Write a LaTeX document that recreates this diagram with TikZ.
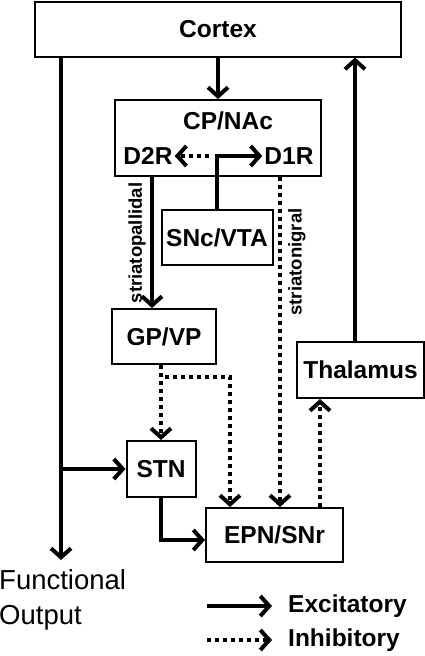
\documentclass[tikz,border=0pt]{standalone}
\usepackage{fontspec}
\setmainfont{Liberation Sans}
\usetikzlibrary{arrows.meta}

\tikzset{
	region/.style={draw, line width=2pt, inner sep=0pt, font=\fontsize{24.5}{29}\selectfont\bfseries},
	rlabel/.style={inner sep=2pt, font=\fontsize{24.5}{29}\selectfont\bfseries},
	path label/.style={inner sep=0pt, rotate=90, font=\fontsize{18.5}{22}\selectfont\bfseries},
	exc/.style={line width=4pt, -{Straight Barb[length=9pt,width=20pt]}},
	inh/.style={exc, dash pattern=on 4pt off 4pt},
}

\begin{document}
\begin{tikzpicture}[x=1pt, y=-1pt]
		\useasboundingbox (0,0) rectangle (425,656);
		
		% regions
		\node[region, minimum width=366pt, minimum height=55pt] (ctx) at (218,29) {Cortex};
		\node[region, minimum width=206pt, minimum height=76pt] (cp) at (218,138) {};
		\node[rlabel] (cptxt) at (228,121) {CP/NAc};
		\node[rlabel] (d2r) at (148,156) {D2R};
		\node[rlabel] (d1r) at (289,156) {D1R};
		\node[region, minimum width=111pt, minimum height=55pt] (snc) at (217,237.5) {SNc/VTA};
		\node[region, minimum width=104pt, minimum height=55pt] (gp) at (164,336.5) {GP/VP};
		\node[region, minimum width=127pt, minimum height=56pt] (thal) at (360.5,370) {Thalamus};
		\node[region, minimum width=69pt, minimum height=56pt] (stn) at (161,469) {STN};
		\node[region, minimum width=137pt, minimum height=54pt] (epn) at (274.5,535) {EPN/SNr};
		\node[anchor=west, inner sep=0pt, align=left, font=\fontsize{27.5}{35}\selectfont] (fout) at (-1,600) {Functional\\Output};
		\node[path label] (spl) at (137,243) {striatopallidal};
		\node[path label] (snl) at (297,262) {striatonigral};
		
		% helper points
		\coordinate (out) at (61,560);
		\coordinate (sp) at (152,0);
		\coordinate (sn) at (280,0);
		\coordinate (dop) at (209,156);
		\coordinate (gpc) at (230,377);
		\coordinate (up) at (355,0);
		\coordinate (ep) at (320,0);
		
		% pathways
		\draw[exc] (ctx.south) -- (cp.north);
		\draw[exc] (ctx.south -| out) -- (out);
		\draw[exc] (stn.west -| out) -- (stn.west);
		\draw[exc] (snc.north) |- (d1r.west);
		\draw[inh] (dop) -- (d2r.east);
		\draw[exc] (cp.south -| sp) -- (gp.north -| sp);
		\draw[inh] (cp.south -| sn) -- (epn.north -| sn);
		\draw[inh] (gp.south -| stn) -- (stn.north);
		\draw[inh] (gp.south -| stn) |- (gpc) -- (epn.north -| gpc);
		\draw[exc] (stn.south) |- ([yshift=-5pt]epn.west);
		\draw[inh] (epn.north -| ep) -- (thal.south -| ep);
		\draw[exc] (thal.north -| up) -- (ctx.south -| up);
		
		% legend
		\node[rlabel, anchor=west] (lexc) at (286,606) {Excitatory};
		\node[rlabel, anchor=west] (linh) at (286,640) {Inhibitory};
		\draw[exc] (207,606) -- ([xshift=-14pt]lexc.west);
		\draw[inh] (207,640) -- ([xshift=-14pt]linh.west);
	\end{tikzpicture}
\end{document}
